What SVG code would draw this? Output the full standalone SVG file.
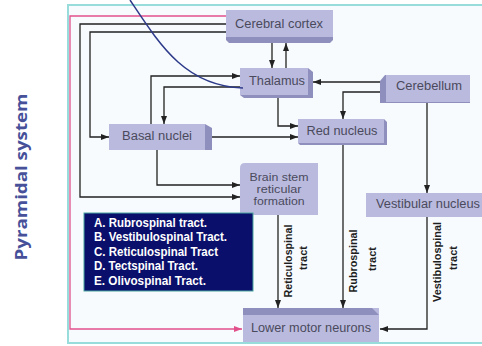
<svg xmlns="http://www.w3.org/2000/svg" width="482" height="346" viewBox="0 0 482 346">
  <style>
    .box { fill: #babadf; }
    .shade { fill: #8f8fbd; }
    .lbl { font-family: "Liberation Sans", Arial, sans-serif; font-size: 12.5px; fill: #4a4a5c; text-anchor: middle; }
    .lbl2 { font-family: "Liberation Sans", Arial, sans-serif; font-size: 11px; fill: #4a4a5c; text-anchor: middle; }
    .tract { font-family: "Liberation Sans", Arial, sans-serif; font-size: 11px; font-weight: bold; fill: #1e1e1e; text-anchor: middle; }
    .leg { font-family: "Liberation Sans", Arial, sans-serif; font-size: 12.5px; font-weight: bold; fill: #ffffff; }
    .wire { fill: none; stroke: #222222; stroke-width: 1.3; marker-end: url(#arr); }
  </style>
  <defs>
    <marker id="arr" markerUnits="userSpaceOnUse" markerWidth="8" markerHeight="6" refX="8" refY="3" orient="auto">
      <path d="M0,0 L8,3 L0,6 z" fill="#222222"/>
    </marker>
    <marker id="arrPink" markerUnits="userSpaceOnUse" markerWidth="8" markerHeight="6" refX="8" refY="3" orient="auto">
      <path d="M0,0 L8,3 L0,6 z" fill="#e2508c"/>
    </marker>
  </defs>

  <rect x="0" y="0" width="482" height="346" fill="#ffffff"/>
  <rect x="68" y="5" width="418" height="338" fill="#f7fbfd" stroke="#98dcdc" stroke-width="2"/>

  <text transform="translate(27,177) rotate(-90)" text-anchor="middle" font-family="'Open Sans', 'Liberation Sans', sans-serif" font-size="15.5" font-weight="bold" fill="#46519a" textLength="167" lengthAdjust="spacingAndGlyphs">Pyramidal system</text>

  <g id="connectors">
    <path d="M226,16 H70 V329 H242" fill="none" stroke="#e2508c" stroke-width="1.3" marker-end="url(#arrPink)"/>
    <path class="wire" d="M226,24 H80 V197 H240"/>
    <path class="wire" d="M226,32 H90 V137 H109"/>
    <path class="wire" d="M151,124 V76 H240"/>
    <path class="wire" d="M240,87 H164 V124"/>
    <path class="wire" d="M272,43 V68"/>
    <path class="wire" d="M286,68 V43"/>
    <path class="wire" d="M278,98 V126 H298"/>
    <path class="wire" d="M212,137 H298"/>
    <path class="wire" d="M380,82 H313"/>
    <path class="wire" d="M380,92 H343 V119"/>
    <path class="wire" d="M427,103 V193"/>
    <path class="wire" d="M343,145 V308"/>
    <path class="wire" d="M278,215 V308"/>
    <path class="wire" d="M427,217 V329 H380"/>
    <path class="wire" d="M157,150 V185 H240"/>
  </g>

  <g id="cerebral-cortex">
    <rect class="box" x="226" y="10" width="107" height="29"/>
    <polygon class="shade" points="226,37 333,37 333,40 330,43 229,43 226,40"/>
    <text class="lbl" x="279" y="28" textLength="88" lengthAdjust="spacingAndGlyphs">Cerebral cortex</text>
  </g>

  <g id="thalamus">
    <polygon class="shade" points="240,68 308,68 313,72 313,98 244,98 240,95"/>
    <rect class="box" x="240" y="68" width="68" height="27"/>
    <text class="lbl" x="277" y="85" textLength="56" lengthAdjust="spacingAndGlyphs">Thalamus</text>
  </g>

  <g id="cerebellum">
    <polygon class="shade" points="385,75 470,75 470,103 380,103 380,81"/>
    <rect class="box" x="386" y="75" width="84" height="27"/>
    <text class="lbl" x="429" y="90" textLength="66" lengthAdjust="spacingAndGlyphs">Cerebellum</text>
  </g>

  <g id="red-nucleus">
    <polygon class="shade" points="298,119 384,119 387,122 387,145 300,145 298,143"/>
    <rect class="box" x="298" y="119" width="86" height="24"/>
    <text class="lbl" x="342" y="135" textLength="71" lengthAdjust="spacingAndGlyphs">Red nucleus</text>
  </g>

  <g id="basal-nuclei">
    <polygon class="shade" points="109,124 205,124 212,128 212,150 109,150"/>
    <rect class="box" x="109" y="124" width="96" height="26"/>
    <text class="lbl" x="157" y="140" textLength="70" lengthAdjust="spacingAndGlyphs">Basal nuclei</text>
  </g>

  <g id="brain-stem">
    <path class="box" d="M245,163 H318 V215 H240 V168 Q240,163 245,163 z"/>
    <text class="lbl2" x="279" y="181" textLength="59" lengthAdjust="spacingAndGlyphs">Brain stem</text>
    <text class="lbl2" x="279" y="193" textLength="45" lengthAdjust="spacingAndGlyphs">reticular</text>
    <text class="lbl2" x="279" y="205" textLength="51" lengthAdjust="spacingAndGlyphs">formation</text>
  </g>

  <g id="vestibular-nucleus">
    <rect class="box" x="366" y="193" width="118" height="24"/>
    <text class="lbl" x="428" y="208" textLength="104" lengthAdjust="spacingAndGlyphs">Vestibular nucleus</text>
  </g>

  <g id="lower-motor-neurons">
    <rect class="box" x="243" y="308" width="136" height="34"/>
    <polygon class="shade" points="243,308 372,308 379,315 243,315"/>
    <text class="lbl" x="311" y="332" textLength="120" lengthAdjust="spacingAndGlyphs">Lower motor neurons</text>
  </g>

  <g id="tract-labels">
    <text class="tract" transform="translate(292,261) rotate(-90)" textLength="73" lengthAdjust="spacingAndGlyphs">Reticulospinal</text>
    <text class="tract" transform="translate(307,258) rotate(-90)">tract</text>
    <text class="tract" transform="translate(357,261) rotate(-90)" textLength="63" lengthAdjust="spacingAndGlyphs">Rubrospinal</text>
    <text class="tract" transform="translate(376,259) rotate(-90)">tract</text>
    <text class="tract" transform="translate(441,262) rotate(-90)" textLength="80" lengthAdjust="spacingAndGlyphs">Vestibulospinal</text>
    <text class="tract" transform="translate(457,258) rotate(-90)">tract</text>
  </g>

  <g id="legend">
    <rect x="84" y="213" width="169" height="78" fill="#0b0f6c" stroke="#4aa6a0" stroke-width="1"/>
    <text class="leg" x="94" y="227" textLength="113" lengthAdjust="spacingAndGlyphs">A.  Rubrospinal tract.</text>
    <text class="leg" x="94" y="241" textLength="133" lengthAdjust="spacingAndGlyphs">B.  Vestibulospinal Tract.</text>
    <text class="leg" x="94" y="256" textLength="124" lengthAdjust="spacingAndGlyphs">C.  Reticulospinal Tract</text>
    <text class="leg" x="94" y="270" textLength="104" lengthAdjust="spacingAndGlyphs">D.  Tectspinal Tract.</text>
    <text class="leg" x="94" y="285" textLength="112" lengthAdjust="spacingAndGlyphs">E.  Olivospinal Tract.</text>
  </g>

  <path d="M130,0 C160,45 185,86 243,88" fill="none" stroke="#2d3a8a" stroke-width="1.5"/>
</svg>
